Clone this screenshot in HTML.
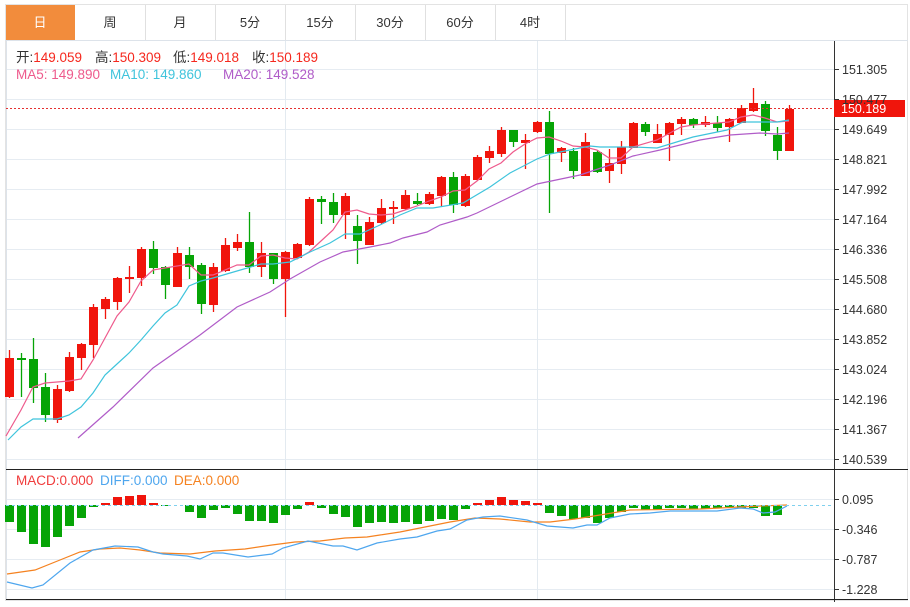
<!DOCTYPE html>
<html><head><meta charset="utf-8"><style>
body{margin:0;background:#fff;width:910px;height:602px;overflow:hidden;font-family:"Liberation Sans","Noto Sans CJK SC",sans-serif}
</style></head><body>
<svg id="s" width="910" height="602" xmlns="http://www.w3.org/2000/svg" font-family="Liberation Sans, Noto Sans CJK SC, sans-serif">
<rect x="5.5" y="4.5" width="902" height="596" fill="#fff" stroke="#e3e3e3"/>
<line x1="5" y1="40.5" x2="908" y2="40.5" stroke="#dde3ea"/>
<rect x="6" y="5" width="69" height="35" fill="#f28c3c"/>
<g stroke="#e0e0e0"><line x1="145.5" y1="5" x2="145.5" y2="40"/><line x1="215.5" y1="5" x2="215.5" y2="40"/><line x1="285.5" y1="5" x2="285.5" y2="40"/><line x1="355.5" y1="5" x2="355.5" y2="40"/><line x1="425.5" y1="5" x2="425.5" y2="40"/><line x1="495.5" y1="5" x2="495.5" y2="40"/><line x1="565.5" y1="5" x2="565.5" y2="40"/></g>
<g font-size="13" text-anchor="middle" fill="#333"><text x="40" y="27" fill="#fff">日</text><text x="110" y="27">周</text><text x="180" y="27">月</text><text x="250" y="27">5分</text><text x="320" y="27">15分</text><text x="390" y="27">30分</text><text x="460" y="27">60分</text><text x="530" y="27">4时</text></g>
<g id="grid" stroke="#e6ecf2"></g>
<line x1="285.5" y1="41" x2="285.5" y2="600" stroke="#e3eaf0"/>
<line x1="537.5" y1="41" x2="537.5" y2="600" stroke="#e3eaf0"/>
<line x1="6.5" y1="41" x2="6.5" y2="600" stroke="#dde3ea"/>
<line x1="834.5" y1="41" x2="834.5" y2="602" stroke="#333"/>
<line x1="6" y1="469.5" x2="908" y2="469.5" stroke="#222"/>
<line x1="6" y1="599.5" x2="908" y2="599.5" stroke="#222"/>
<g font-size="13.5">
<text x="16" y="62" fill="#333">开:<tspan fill="#f5281e">149.059</tspan></text>
<text x="95" y="62" fill="#333">高:<tspan fill="#f5281e">150.309</tspan></text>
<text x="173" y="62" fill="#333">低:<tspan fill="#f5281e">149.018</tspan></text>
<text x="252" y="62" fill="#333">收:<tspan fill="#f5281e">150.189</tspan></text>
<text x="16" y="79" fill="#ee5a8c">MA5: 149.890</text>
<text x="110" y="79" fill="#3fc4dc">MA10: 149.860</text>
<text x="223" y="79" fill="#b05cc8">MA20: 149.528</text>
<text x="16" y="485" fill="#f03c3c">MACD:0.000</text>
<text x="100" y="485" fill="#4ea6ee">DIFF:0.000</text>
<text x="174" y="485" fill="#f58220">DEA:0.000</text></g>
<g id="c"></g>
<line x1="6" y1="108.5" x2="834" y2="108.5" stroke="#e53030" stroke-dasharray="2,2"/>
<line x1="6" y1="505.5" x2="834" y2="505.5" stroke="#7fd0ee" stroke-dasharray="3,3"/>
<rect x="834" y="100" width="71" height="17" fill="#f0150c"/>
<text x="841" y="113" font-size="12.5" fill="#fff">150.189</text>
<g id="ax" font-size="12.5" fill="#333"></g>
</svg>
<script>
var s=document.getElementById('c'),g=document.getElementById('grid'),ax=document.getElementById('ax');
var NS='http://www.w3.org/2000/svg';
function el(p,t,a){var e=document.createElementNS(NS,t);for(var k in a)e.setAttribute(k,a[k]);p.appendChild(e);return e;}
var pl=["151.305","150.477","149.649","148.821","147.992","147.164","146.336","145.508","144.680","143.852","143.024","142.196","141.367","140.539"];
for(var i=0;i<14;i++){var y=69+i*30;el(g,'line',{x1:6,y1:y+.5,x2:834,y2:y+.5});el(ax,'line',{x1:834,y1:y+.5,x2:839,y2:y+.5,stroke:'#333'});var t=el(ax,'text',{x:842,y:y+5});t.textContent=pl[i];}
var ml=["0.095","-0.346","-0.787","-1.228"];
for(var i=0;i<4;i++){var y=499+i*30;el(g,'line',{x1:6,y1:y+.5,x2:834,y2:y+.5});el(ax,'line',{x1:834,y1:y+.5,x2:839,y2:y+.5,stroke:'#333'});var t=el(ax,'text',{x:842,y:y+5});t.textContent=ml[i];}
var C=[[1,358,397,350,398],[0,358,360,353,397],[0,359,388,338,403],[0,387,415,373,422],[1,389,420,385,423],[1,357,391,352,392],[1,344,358,343,370],[1,307,345,304,358],[1,299,309,297,319],[1,278,302,277,310],
[1,277,279,266,293],[1,249,278,247,286],[0,249,268,241,274],[0,267,285,266,299],[1,253,287,247,287],[0,255,267,247,279],[0,265,304,263,314],[1,267,305,263,312],[1,245,271,238,272],[1,242,248,234,251],
[0,242,267,212,273],[1,253,267,242,277],[0,253,279,253,284],[1,252,279,251,317],[1,244,258,243,259],[1,199,245,197,246],[0,199,202,196,224],[0,202,215,193,223],[1,196,215,193,239],[0,226,241,215,264],
[1,222,245,217,245],[1,208,223,199,224],[1,207,209,201,224],[1,195,209,190,210],[0,201,204,193,205],[1,194,204,192,205],[1,177,196,176,207],[0,177,205,172,213],[1,176,206,174,207],[1,157,180,155,181],
[1,151,158,146,163],[1,130,154,127,157],[0,130,142,130,147],[1,140,143,134,169],[1,122,132,121,133],[0,122,154,111,213],[1,148,153,147,162],[0,151,171,148,179],[1,142,176,133,176],[0,152,172,150,173],
[1,163,171,149,183],[1,147,164,141,174],[1,123,148,122,148],[0,124,132,122,136],[1,134,143,124,143],[1,123,135,122,161],[1,119,124,117,135],[0,119,125,118,128],[1,122,125,116,127],[0,123,128,116,132],
[1,119,127,118,142],[1,108,123,105,123],[1,103,111,88,112],[0,104,131,101,136],[0,135,151,127,160],[1,109,151,105,151]];
for(var i=0;i<C.length;i++){var c=C[i],x=9+12*i,col=c[0]?'#f0150c':'#06a406';
el(s,'line',{x1:x+.5,y1:c[3],x2:x+.5,y2:c[4],stroke:col,'stroke-width':1.3});
el(s,'rect',{x:x-4,y:c[1],width:9,height:Math.max(1.5,c[2]-c[1]),fill:col});}
var H=[522,532,544,547,537,526,518,507,503,497,496,495,503,506,505,512,518,510,508,514,521,521,523,515,509,502,508,514,517,527,523,522,523,522,524,521,519,520,509,503,500,497,500,501,503,513,516,519,518,523,518,512,508,510,510,508,508,509,509,508,507,508,508,516,515,505];
for(var i=0;i<H.length;i++){var x=9+12*i,h=H[i];if(h==505)continue;
if(h<505)el(s,'rect',{x:x-4,y:h,width:9,height:505-h,fill:'#f0150c'});else el(s,'rect',{x:x-4,y:505,width:9,height:h-505,fill:'#06a406'});}
function line(pts,col){el(s,'polyline',{points:pts,fill:'none',stroke:col,'stroke-width':1.2});}
line("6,436 21,410 33,387 45,383 69,381 81,379 93,360 105,338 117,316 129,302 141,281 153,270 165,268 189,264 201,275 213,275 225,270 237,265 249,265 261,256 273,255 285,258 297,259 309,252 321,241 333,230 345,212 357,210 369,214 381,215 393,214 405,210 417,206 429,201 441,197 453,191 465,190 477,181 489,169 501,163 513,152 525,144 537,138 549,137 561,141 573,146 585,147 597,150 609,158 621,158 633,147 657,140 681,127 693,125 729,122 741,117 753,115 765,118 777,122 789,121","#ee5a8c");
line("8,440 21,427 33,419 57,419 69,415 81,407 93,393 105,375 117,364 129,353 141,340 153,326 165,313 177,305 189,286 201,281 213,278 237,271 261,264 273,264 290,262 310,252 330,243 345,234 360,234 380,225 400,215 417,208 433,208 463,203 490,187 510,173 537,159 550,154 590,146 600,147 633,147 657,148 693,137 727,130 743,122 763,122 777,122 789,120","#3fc4dc");
line("78,438 113,407 153,368 200,335 237,307 270,292 290,279 320,262 343,252 370,247 390,243 403,238 427,232 440,225 467,217 477,213 510,197 537,184 580,175 610,165 633,156 660,150 700,140 730,135 760,133 777,134 789,133","#b05cc8");
line("7,574 35,570 60,560 80,552 100,549 120,548 140,550 160,553 190,554 215,551 245,549 272,545 295,542 320,541 345,538 367,537 380,535 400,532 430,526 450,522 475,518 500,519 530,522 550,522 575,519 600,515 630,510 700,509 760,506 787,505","#f58220");
line("7,582 32,588 43,585 70,563 93,550 115,546 138,547 153,552 163,554 187,556 200,559 213,553 223,553 248,557 272,554 283,548 308,541 333,546 343,546 357,550 377,543 400,539 417,537 437,531 450,529 467,520 483,517 500,516 527,520 547,526 573,528 587,525 597,525 610,518 630,514 650,513 670,511 717,511 740,508 753,509 763,513 775,512 787,506","#4ea6ee");
</script>
</body></html>
